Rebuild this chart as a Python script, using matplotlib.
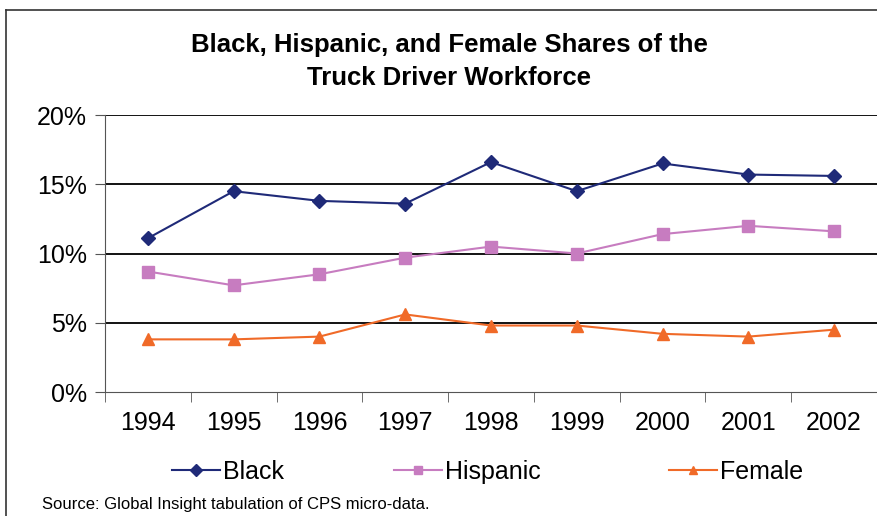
import numpy as np
import matplotlib.pyplot as plt
from matplotlib.lines import Line2D

plt.rcParams['font.family'] = ['Liberation Sans', 'DejaVu Sans']

years = ['1994', '1995', '1996', '1997', '1998', '1999', '2000', '2001', '2002']
black = [11.1, 14.5, 13.8, 13.6, 16.6, 14.5, 16.5, 15.7, 15.6]
hispanic = [8.7, 7.7, 8.5, 9.7, 10.5, 10.0, 11.4, 12.0, 11.6]
female = [3.8, 3.8, 4.0, 5.6, 4.8, 4.8, 4.2, 4.0, 4.5]
y_ticks = [0, 5, 10, 15, 20]

colors = ['#1f2a78', '#c77cc0', '#f06a28']
names = ['Black', 'Hispanic', 'Female']
markers = ['D', 's', '^']

fig = plt.figure(figsize=(8.77, 5.16), dpi=100)
ax = fig.add_axes([105 / 877, 1 - 392 / 516, 1 - 105 / 877, (392 - 115) / 516])

x = np.arange(len(years))
ax.plot(x, black, color=colors[0], marker='D', markersize=7, linewidth=1.5)
ax.plot(x, hispanic, color=colors[1], marker='s', markersize=8, linewidth=1.5)
ax.plot(x, female, color=colors[2], marker='^', markersize=9, linewidth=1.5)

ax.set_xlim(-0.5, len(years) - 0.5)
ax.set_ylim(0, 20)
ax.set_yticks(y_ticks)
ax.set_yticklabels([f'{v}%' for v in y_ticks], fontsize=18)
ax.set_xticks(x)
ax.set_xticklabels(years, fontsize=18)
ax.tick_params(axis='x', length=0, pad=14)
ax.set_xticks(np.arange(len(years) + 1) - 0.5, minor=True)
ax.tick_params(axis='x', which='minor', length=7, color='#555555')
ax.tick_params(axis='y', length=7, color='#555555', pad=6)

for v in y_ticks[1:]:
    ax.axhline(v, color='black', linewidth=1.3, zorder=0)

ax.spines['top'].set_visible(False)
ax.spines['right'].set_visible(False)
ax.spines['left'].set_color('#555555')
ax.spines['bottom'].set_color('#555555')

fig.text(449 / 877, 1 - 45 / 516, 'Black, Hispanic, and Female Shares of the',
         ha='center', va='center', fontsize=18.5, fontweight='bold')
fig.text(449 / 877, 1 - 78 / 516, 'Truck Driver Workforce',
         ha='center', va='center', fontsize=18.5, fontweight='bold')

# legend entries placed one by one
legend_x = [172, 394, 669]
for lx, c, m, n in zip(legend_x, colors, markers, names):
    h = Line2D([], [], color=c, marker=m, markersize=6, linewidth=1.5)
    fig.legend([h], [n], loc='center left', bbox_to_anchor=(lx / 877, 1 - 472 / 516),
               frameon=False, fontsize=18, handlelength=1.9, handletextpad=0.15,
               borderpad=0, borderaxespad=0)

fig.text(42 / 877, 1 - 505 / 516, 'Source: Global Insight tabulation of CPS micro-data.',
         ha='left', va='center', fontsize=12)

# outer frame
fig.add_artist(Line2D([6 / 877, 1], [1 - 10 / 516, 1 - 10 / 516], transform=fig.transFigure,
                      color='#333333', linewidth=1.2))
fig.add_artist(Line2D([6 / 877, 6 / 877], [0, 1 - 10 / 516], transform=fig.transFigure,
                      color='#333333', linewidth=1.2))

fig.savefig('out.png', dpi=100)
